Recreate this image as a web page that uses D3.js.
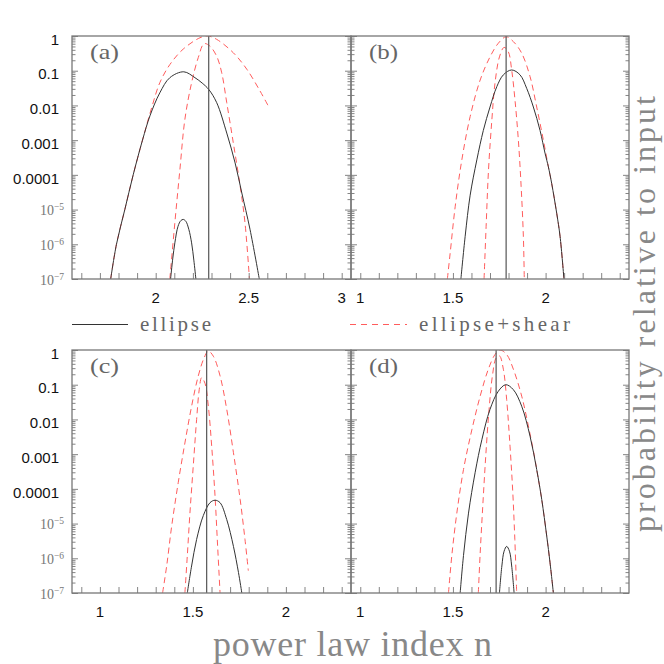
<!DOCTYPE html>
<html>
<head>
<meta charset="utf-8">
<script src="https://cdn.jsdelivr.net/npm/d3@7"></script>
<style>
body { margin: 0; background: #fff; }
svg { display: block; }
</style>
</head>
<body>
<svg id="chart" width="664" height="664"></svg>
<script>
// values: [n, probability]
var aEllipse = [[1.758, 1e-7], [1.789, 1e-6], [1.834, 1e-5], [1.879, 1e-4], [1.929, 1e-3], [1.969, 5e-3],
    [2.022, 0.023], [2.076, 0.063], [2.151, 0.093], [2.211, 0.063], [2.25, 0.044], [2.285, 0.029],
    [2.328, 0.012], [2.382, 1.6e-3], [2.427, 2.2e-4], [2.463, 3e-5], [2.507, 2.7e-6], [2.557, 1e-7]];
var aEllipseLow = [[2.08, 1e-7], [2.092, 4e-7], [2.103, 1.1e-6], [2.12, 3.3e-6], [2.135, 4.8e-6], [2.148, 5.2e-6],
    [2.162, 4.6e-6], [2.178, 2.7e-6], [2.193, 1.1e-6], [2.205, 3.5e-7], [2.216, 1e-7]];
var aShearWide = [[1.758, 1e-7], [1.789, 1e-6], [1.834, 1e-5], [1.879, 1e-4], [1.929, 1e-3], [1.978, 8.5e-3],
    [2.022, 0.045], [2.076, 0.15], [2.148, 0.42], [2.238, 0.89], [2.28, 1.0], [2.328, 0.8], [2.417, 0.33],
    [2.49, 0.11], [2.561, 0.026], [2.606, 0.0095]];
var aShearNarrow = [[2.076, 1e-7], [2.103, 4.2e-6], [2.13, 1.4e-4], [2.157, 4e-3], [2.193, 0.045], [2.229, 0.24],
    [2.26, 0.6], [2.29, 0.52], [2.328, 0.26], [2.355, 0.087], [2.382, 0.012], [2.417, 8.5e-4],
    [2.454, 4.8e-5], [2.48, 4.2e-6], [2.504, 1e-7]];
var aInput = 2.285;

var bEllipse = [[1.543, 1e-7], [1.566, 1.7e-6], [1.593, 2.6e-5], [1.629, 2.7e-4], [1.664, 1.9e-3], [1.70, 9e-3],
    [1.737, 0.035], [1.772, 0.076], [1.817, 0.105], [1.862, 0.076], [1.898, 0.031], [1.934, 9e-3],
    [1.97, 1.9e-3], [1.997, 4.2e-4], [2.015, 1.7e-4], [2.033, 5.6e-5], [2.06, 7.8e-6], [2.078, 1.7e-6],
    [2.099, 1e-7]];
var bShearWide = [[1.47, 1e-7], [1.485, 5.5e-7], [1.512, 1.2e-5], [1.548, 2.7e-4], [1.593, 4.8e-3], [1.647, 0.054],
    [1.70, 0.25], [1.745, 0.62], [1.787, 0.95], [1.826, 0.69], [1.871, 0.32], [1.916, 0.068], [1.952, 9e-3],
    [1.988, 1e-3], [2.015, 1.7e-4], [2.033, 5.6e-5], [2.06, 7.8e-6], [2.078, 1.7e-6], [2.099, 1e-7]];
var bShearNarrow = [[1.668, 1e-7], [1.679, 3.2e-6], [1.692, 1.4e-4], [1.71, 3.8e-3], [1.727, 0.044], [1.751, 0.25],
    [1.776, 0.47], [1.799, 0.35], [1.817, 0.105], [1.835, 0.014], [1.853, 1e-3], [1.868, 4.6e-5],
    [1.88, 1.7e-6], [1.885, 1e-7]];
var bInput = 1.787;

var cEllipse = [[1.47, 1e-7], [1.493, 6e-7], [1.52, 3.5e-6], [1.556, 1.7e-5], [1.592, 4e-5], [1.619, 4.7e-5],
    [1.646, 4e-5], [1.682, 1.3e-5], [1.718, 2.2e-6], [1.745, 3.9e-7], [1.763, 1e-7]];
var cShearWide = [[1.337, 1e-7], [1.359, 6e-7], [1.386, 8.5e-6], [1.421, 1.5e-4], [1.457, 2.1e-3], [1.493, 0.024],
    [1.529, 0.18], [1.56, 0.59], [1.583, 0.93], [1.61, 0.66], [1.646, 0.18], [1.682, 0.0195], [1.718, 1.1e-3],
    [1.754, 5e-5], [1.78, 3.5e-6], [1.798, 4.4e-7]];
var cShearNarrow = [[1.457, 1e-7], [1.47, 1.2e-6], [1.484, 2e-5], [1.502, 4.6e-4], [1.52, 0.01], [1.534, 0.072],
    [1.547, 0.16], [1.565, 0.11], [1.583, 0.024], [1.601, 1.7e-3], [1.619, 6.2e-5], [1.633, 2.2e-6],
    [1.646, 1e-7]];
var cInput = 1.574;

var dEllipse = [[1.539, 1e-7], [1.557, 1.2e-6], [1.584, 2e-5], [1.62, 3e-4], [1.656, 2.6e-3], [1.70, 0.0195],
    [1.745, 0.065], [1.785, 0.1], [1.826, 0.072], [1.871, 0.024], [1.916, 3.3e-3], [1.952, 3.6e-4],
    [1.979, 5e-5], [2.006, 4.4e-6], [2.024, 7.4e-7], [2.042, 1e-7]];
var dEllipseLow = [[1.751, 1e-7], [1.764, 6e-7], [1.776, 1.6e-6], [1.79, 2.2e-6], [1.805, 1.6e-6], [1.817, 6e-7],
    [1.83, 1e-7]];
var dShearWide = [[1.476, 1e-7], [1.494, 1.2e-6], [1.521, 2e-5], [1.557, 3.6e-4], [1.602, 5e-3], [1.647, 0.047],
    [1.691, 0.28], [1.727, 0.74], [1.754, 1], [1.79, 0.74], [1.826, 0.28], [1.871, 0.047], [1.907, 6.5e-3],
    [1.943, 7e-4], [1.952, 3.6e-4], [1.979, 5e-5], [2.006, 4.4e-6], [2.024, 7.4e-7], [2.042, 1e-7]];
var dShearNarrow = [[1.637, 1e-7], [1.647, 1.4e-6], [1.661, 3.2e-5], [1.677, 8.7e-4], [1.695, 0.0195], [1.713, 0.18],
    [1.733, 0.59], [1.751, 0.68], [1.772, 0.28], [1.79, 0.037], [1.808, 1.7e-3], [1.823, 7.8e-5],
    [1.834, 3.5e-6], [1.844, 1e-7]];
var dInput = 1.733;

var xTicksAB = [[2, '2'], [2.5, '2.5'], [3, '3']];
var xTicksOther = [[1, '1'], [1.5, '1.5'], [2, '2']];
var yPlainLabels = [[1, '1'], [0.1, '0.1'], [0.01, '0.01'], [0.001, '0.001'], [1e-4, '0.0001']];
var yPowerLabels = [-5, -6, -7];
var legendNames = ['ellipse', 'ellipse+shear'];

var svg = d3.select('#chart');
var colX = [72, 351, 629],
    rowY = [[36, 279], [350, 593]];
var sans = "'Liberation Sans', Arial, sans-serif",
    serif = "'Liberation Serif', 'Times New Roman', serif";

var panels = [
    {name: '(a)', col: 0, row: 0, xDomain: [1.55, 3.05], xTicks: xTicksAB, input: aInput,
        solid: [aEllipse, aEllipseLow], dashed: [aShearWide, aShearNarrow]},
    {name: '(b)', col: 1, row: 0, xDomain: [0.95, 2.45], xTicks: xTicksOther, input: bInput,
        solid: [bEllipse], dashed: [bShearWide, bShearNarrow]},
    {name: '(c)', col: 0, row: 1, xDomain: [0.85, 2.35], xTicks: xTicksOther, input: cInput,
        solid: [cEllipse], dashed: [cShearWide, cShearNarrow]},
    {name: '(d)', col: 1, row: 1, xDomain: [0.95, 2.45], xTicks: xTicksOther, input: dInput,
        solid: [dEllipse, dEllipseLow], dashed: [dShearWide, dShearNarrow]}
];

var majorY = d3.range(-7, 1).map(function(k) { return Math.pow(10, k); });
var minorY = [];
d3.range(-7, 0).forEach(function(k) {
    d3.range(2, 10).forEach(function(m) { minorY.push(m * Math.pow(10, k)); });
});

panels.forEach(drawPanel);

function drawPanel(p, i) {
    var left = colX[p.col], right = colX[p.col + 1],
        top = rowY[p.row][0], bottom = rowY[p.row][1];
    var x = d3.scaleLinear().domain(p.xDomain).range([left, right]);
    var y = d3.scaleLog().domain([1e-7, 1]).range([bottom, top]);
    var g = svg.append('g');

    g.append('clipPath').attr('id', 'clip' + i)
        .append('rect')
        .attr('x', left).attr('y', top)
        .attr('width', right - left).attr('height', bottom - top);

    var line = d3.line()
        .x(function(d) { return x(d[0]); })
        .y(function(d) { return y(d[1]); })
        .curve(d3.curveCatmullRom.alpha(0.5));

    var plot = g.append('g').attr('clip-path', 'url(#clip' + i + ')');
    p.dashed.forEach(function(c) {
        plot.append('path').attr('d', line(c))
            .attr('fill', 'none').attr('stroke', '#ff5c5c')
            .attr('stroke-width', 1).attr('stroke-dasharray', '6,4');
    });
    p.solid.forEach(function(c) {
        plot.append('path').attr('d', line(c))
            .attr('fill', 'none').attr('stroke', '#333')
            .attr('stroke-width', 1);
    });
    plot.append('line')
        .attr('x1', x(p.input)).attr('x2', x(p.input))
        .attr('y1', top).attr('y2', bottom)
        .attr('stroke', '#555').attr('stroke-width', 1.2);

    // log ticks on both sides, pointing inwards
    [[d3.axisRight, left], [d3.axisLeft, right]].forEach(function(s) {
        g.append('g').attr('transform', 'translate(' + s[1] + ',0)')
            .call(s[0](y).tickValues(minorY).tickSize(3.5).tickFormat(''))
            .call(tidy);
        g.append('g').attr('transform', 'translate(' + s[1] + ',0)')
            .call(s[0](y).tickValues(majorY).tickSize(6).tickFormat(''))
            .call(tidy);
    });

    var xMinor = d3.range(Math.ceil(p.xDomain[0] * 10), Math.floor(p.xDomain[1] * 10) + 1)
        .map(function(v) { return v / 10; });
    g.append('g').attr('transform', 'translate(0,' + bottom + ')')
        .call(d3.axisTop(x).tickValues(xMinor).tickSize(6).tickFormat(''))
        .call(tidy);

    g.append('rect')
        .attr('x', left).attr('y', top)
        .attr('width', right - left).attr('height', bottom - top)
        .attr('fill', 'none').attr('stroke', '#777').attr('stroke-width', 1.3);

    g.selectAll('.xlab').data(p.xTicks).enter().append('text')
        .attr('x', function(d) { return x(d[0]); })
        .attr('y', bottom + 24)
        .attr('text-anchor', 'middle')
        .attr('font-family', sans).attr('font-size', 15).attr('fill', '#111')
        .text(function(d) { return d[1]; });

    g.append('text')
        .attr('x', left + 18).attr('y', top + 23)
        .attr('font-family', serif).attr('font-size', 21).attr('fill', '#666')
        .attr('textLength', 29).attr('lengthAdjust', 'spacingAndGlyphs')
        .text(p.name);

    if (p.col === 0) {
        g.selectAll('.ylab').data(yPlainLabels).enter().append('text')
            .attr('x', 59)
            .attr('y', function(d) { return y(d[0]) + 3.5; })
            .attr('dy', '0.35em')
            .attr('text-anchor', 'end')
            .attr('font-family', sans).attr('font-size', 15).attr('fill', '#111')
            .text(function(d) { return d[1]; });
        var pw = g.selectAll('.ypow').data(yPowerLabels).enter().append('text')
            .attr('x', 64)
            .attr('y', function(d) { return y(Math.pow(10, d)) + 5.5; })
            .attr('text-anchor', 'end')
            .attr('font-family', serif).attr('fill', '#777');
        pw.append('tspan').attr('font-size', 14).text('10');
        pw.append('tspan').attr('font-size', 9.5).attr('dy', -5)
            .text(function(d) { return '\u2212' + Math.abs(d); });
    }
}

function tidy(sel) {
    sel.select('.domain').remove();
    sel.selectAll('.tick line').attr('stroke', '#777').attr('stroke-width', 0.9);
}

// legend
svg.append('line').attr('x1', 72).attr('x2', 128).attr('y1', 324.5).attr('y2', 324.5)
    .attr('stroke', '#333').attr('stroke-width', 1);
svg.append('line').attr('x1', 350).attr('x2', 407).attr('y1', 324.5).attr('y2', 324.5)
    .attr('stroke', '#ff5c5c').attr('stroke-width', 1).attr('stroke-dasharray', '6,5');
svg.append('text').attr('x', 140).attr('y', 330.5)
    .attr('font-family', serif).attr('font-size', 21).attr('fill', '#666')
    .attr('textLength', 71).attr('lengthAdjust', 'spacing')
    .text(legendNames[0]);
svg.append('text').attr('x', 419).attr('y', 330.5)
    .attr('font-family', serif).attr('font-size', 21).attr('fill', '#666')
    .attr('textLength', 151).attr('lengthAdjust', 'spacing')
    .text(legendNames[1]);

// axis titles
svg.append('text').attr('x', 213).attr('y', 656)
    .attr('font-family', serif).attr('font-size', 36).attr('fill', '#888')
    .attr('textLength', 279).attr('lengthAdjust', 'spacing')
    .text('power law index n');
svg.append('text')
    .attr('transform', 'translate(655,532) rotate(-90)')
    .attr('font-family', serif).attr('font-size', 32).attr('fill', '#888')
    .attr('textLength', 436).attr('lengthAdjust', 'spacing')
    .text('probability relative to input');
</script>
</body>
</html>
